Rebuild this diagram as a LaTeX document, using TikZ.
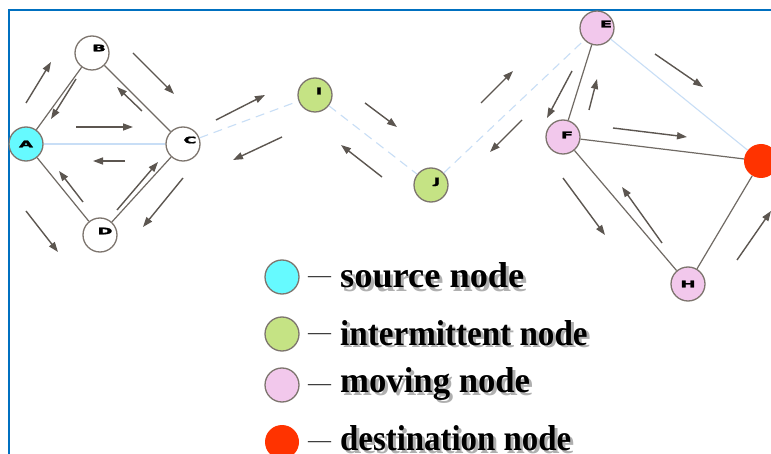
\documentclass[tikz,border=0pt]{standalone}
\usepackage{fontspec}
\usepackage{graphicx}
\setmainfont{Liberation Serif}
\newfontfamily\lblfont[FakeBold=1.6]{DejaVu Sans Bold}
\usetikzlibrary{arrows.meta}
\definecolor{srcC}{RGB}{102,250,255}
\definecolor{intC}{RGB}{197,227,132}
\definecolor{movC}{RGB}{242,200,236}
\definecolor{dstC}{RGB}{255,51,0}
\definecolor{bordC}{RGB}{125,117,110}
\definecolor{edgeC}{RGB}{112,106,100}
\definecolor{linkC}{RGB}{200,222,246}
\definecolor{arrC}{RGB}{92,86,80}
\definecolor{frameC}{RGB}{0,112,192}
\definecolor{shadowC}{RGB}{175,175,175}
\newcommand\nlab[1]{\scalebox{1.8}[0.9]{\lblfont\fontsize{10}{10}\selectfont #1}}
\newcommand\legtext[2]{\scalebox{#1}[1]{\bfseries\fontsize{36}{40}\selectfont #2}}
\tikzset{
  nd/.style={circle, minimum size=34pt, inner sep=0pt, draw=bordC, line width=1.3pt},
  srcnode/.style={nd, fill=srcC},
  plainnode/.style={nd, fill=white},
  intnode/.style={nd, fill=intC},
  movnode/.style={nd, fill=movC},
  dstnode/.style={circle, minimum size=34pt, inner sep=0pt, fill=dstC},
  edge/.style={draw=edgeC, line width=1.2pt},
  link/.style={draw=linkC, line width=1.1pt},
  dlink/.style={link, dash pattern=on 9pt off 6pt},
  arr/.style={draw=arrC, line width=1.4pt, -{Triangle[length=10pt,width=7pt]}},
  legtxt/.style={anchor=base west, inner sep=0pt},
  legshadow/.style={legtxt, text=shadowC},
  legdash/.style={anchor=base, inner sep=0pt, font=\fontsize{23}{23}\selectfont, text=black!80},
}
\begin{document}
\begin{tikzpicture}[x=1pt,y=-1pt]
\useasboundingbox (0,0) rectangle (771,454);
\clip (0,0) rectangle (771,454);
\fill[white] (0,0) rectangle (771,454);
% frame
\draw[frameC, line width=2pt] (9,470) -- (9,10) -- (790,10);

% nodes
\node[srcnode, label={center:{\nlab{A}}}] (A) at (26,144) {};
\node[plainnode, label={[xshift=7pt,yshift=5pt]center:{\nlab{B}}}] (B) at (92,53) {};
\node[plainnode, label={[xshift=7pt,yshift=4pt]center:{\nlab{C}}}] (C) at (183,144) {};
\node[plainnode, label={[xshift=5pt,yshift=4pt]center:{\nlab{D}}}] (D) at (100,235) {};
\node[intnode, label={[xshift=4pt,yshift=4pt]center:{\nlab{I}}}] (I) at (315,95) {};
\node[intnode, label={[xshift=6pt,yshift=3pt]center:{\nlab{J}}}] (J) at (431,185) {};
\node[movnode, label={[xshift=9pt,yshift=4pt]center:{\nlab{E}}}] (E) at (597,28) {};
\node[movnode, label={[xshift=4pt,yshift=2pt]center:{\nlab{F}}}] (F) at (563,137) {};
\node[dstnode] (G) at (761,161) {};
\node[movnode, label={center:{\nlab{H}}}] (H) at (688,284) {};

% links
\draw[edge] (A) -- (B);
\draw[edge] (B) -- (C);
\draw[edge] (A) -- (D);
\draw[edge] (D) -- (C);
\draw[edge] (E) -- (F);
\draw[edge] (F) -- (G);
\draw[edge] (F) -- (H);
\draw[edge] (H) -- (G);
\draw[link] (A) -- (C);
\draw[link] (E) -- (G);
\draw[dlink] (C) -- (I);
\draw[dlink] (I) -- (J);
\draw[dlink] (J) -- (E);

% movement arrows
\draw[arr] (26,103) -- (51,62);
\draw[arr] (76,79) -- (51,119);
\draw[arr] (133,53) -- (174,94);
\draw[arr] (142,111) -- (117,87);
\draw[arr] (76,127) -- (133,127);
\draw[arr] (125,161) -- (93,161);
\draw[arr] (26,211) -- (58,252);
\draw[arr] (83,202) -- (59,171);
\draw[arr] (117,210) -- (158,162);
\draw[arr] (183,178) -- (143,227);
\draw[arr] (216,120) -- (265,95);
\draw[arr] (282,137) -- (233,160);
\draw[arr] (365,103) -- (397,127);
\draw[arr] (382,177) -- (341,145);
\draw[arr] (481,103) -- (513,71);
\draw[arr] (522,120) -- (490,152);
\draw[arr] (572,71) -- (547,118);
\draw[arr] (589,110) -- (597,79);
\draw[arr] (655,54) -- (703,87);
\draw[arr] (613,128) -- (687,137);
\draw[arr] (563,178) -- (605,235);
\draw[arr] (662,243) -- (622,187);
\draw[arr] (737,260) -- (771,211);

% legend
\node[srcnode] (L1) at (282,277) {};
\node[intnode] (L2) at (282,334) {};
\node[movnode] (L3) at (282,385) {};
\node[dstnode] (L4) at (282,442) {};
\node[legdash] (D1) at (319.5,282.5) {—};
\node[legdash] (D2) at (319.5,339.5) {—};
\node[legdash] (D3) at (319.5,390.5) {—};
\node[legdash] (D4) at (319.5,447.5) {—};
\node[legshadow] at (343,291) {\legtext{1.01}{source node}};
\node[legtxt] (T1) at (340,288) {\legtext{1.01}{source node}};
\node[legshadow] at (343,348) {\legtext{0.92}{intermittent node}};
\node[legtxt] (T2) at (340,345) {\legtext{0.92}{intermittent node}};
\node[legshadow] at (343,395) {\legtext{0.964}{moving node}};
\node[legtxt] (T3) at (340,392) {\legtext{0.964}{moving node}};
\node[legshadow] at (343,453) {\legtext{0.913}{destination node}};
\node[legtxt] (T4) at (340,450) {\legtext{0.913}{destination node}};
\end{tikzpicture}
\end{document}
